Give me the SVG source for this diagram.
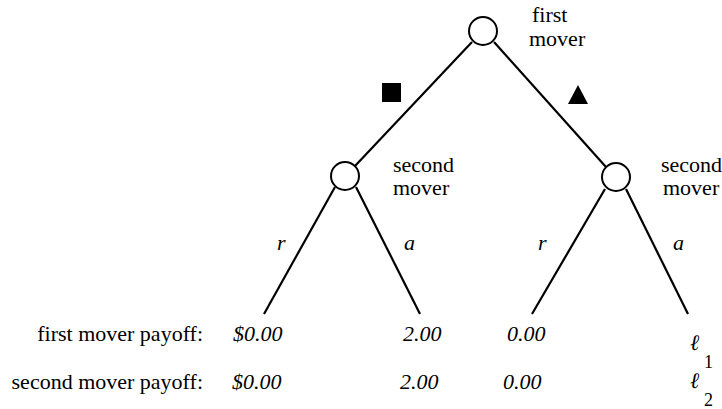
<svg xmlns="http://www.w3.org/2000/svg" width="722" height="409" viewBox="0 0 722 409">
<style>
.t{font-family:"Liberation Serif","Times New Roman",serif;font-size:22px;fill:#000}
.i{font-style:italic}
.s{font-size:18px}
.n{fill:#fff;stroke:#000;stroke-width:2}
.e{stroke:#000;stroke-width:2.2;fill:none}
</style>
<rect width="722" height="409" fill="#fff"/>
<g id="connectors">
<line class="e" x1="472" y1="42" x2="355" y2="166"/>
<line class="e" x1="494" y1="42" x2="606" y2="167"/>
<line class="e" x1="335" y1="187" x2="264" y2="314"/>
<line class="e" x1="356" y1="187" x2="420" y2="314"/>
<line class="e" x1="605" y1="189" x2="532" y2="314"/>
<line class="e" x1="626" y1="189" x2="688" y2="314"/>
</g>
<g id="root">
<circle class="n" cx="483" cy="31" r="14"/>
<text class="t" x="532" y="22">first</text>
<text class="t" x="529" y="46">mover</text>
</g>
<g id="left">
<circle class="n" cx="345" cy="176" r="14"/>
<text class="t" x="393" y="172">second</text>
<text class="t" x="393" y="195">mover</text>
</g>
<g id="right">
<circle class="n" cx="616" cy="177" r="14"/>
<text class="t" x="661" y="172">second</text>
<text class="t" x="663" y="195">mover</text>
</g>
<g id="labels">
<rect x="382" y="83" width="19" height="19" fill="#000"/>
<polygon points="568,104 578,85 588,104" fill="#000"/>
<text class="t i" x="277" y="250">r</text>
<text class="t i" x="404" y="250">a</text>
<text class="t i" x="538" y="250">r</text>
<text class="t i" x="673" y="250">a</text>
</g>
<g id="payoffs">
<text class="t" x="203" y="341" text-anchor="end">first mover payoff:</text>
<text class="t" x="203" y="389" text-anchor="end">second mover payoff:</text>
<text class="t i" x="233" y="341">$0.00</text>
<text class="t i" x="232" y="389">$0.00</text>
<text class="t i" x="403" y="341">2.00</text>
<text class="t i" x="400" y="389">2.00</text>
<text class="t i" x="507" y="341">0.00</text>
<text class="t i" x="503" y="389">0.00</text>
<text class="t i" x="690" y="350">ℓ</text>
<text class="t s" x="704" y="368">1</text>
<text class="t i" x="690" y="388">ℓ</text>
<text class="t s" x="704" y="406">2</text>
</g>
</svg>
